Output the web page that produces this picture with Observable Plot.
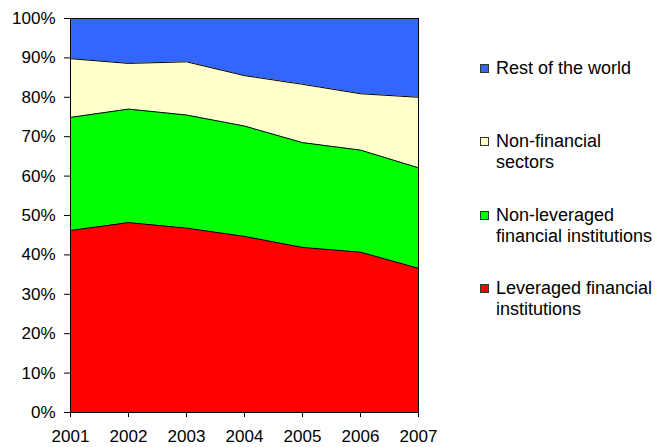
<!DOCTYPE html>
<html>
<head>
<meta charset="utf-8">
<script src="https://cdn.jsdelivr.net/npm/d3@7"></script>
<script src="https://cdn.jsdelivr.net/npm/@observablehq/plot@0.6"></script>
<style>
  body { margin: 0; background: #fff; font-family: "Liberation Sans", Arial, sans-serif; }
  #wrap { position: relative; width: 655px; height: 447px; }
  #legend { position: absolute; left: 480px; top: 0; font-size: 18px; color: #000; }
  .item { position: absolute; left: 0; white-space: nowrap; line-height: 21px; }
  .sw { position: absolute; left: 0; width: 7px; height: 7px; border: 1px solid #333; }
  .lbl { position: absolute; left: 16px; }
</style>
</head>
<body>
<div id="wrap"><div id="legend"></div></div>
<script>
const years = [2001, 2002, 2003, 2004, 2005, 2006, 2007];
const seriesNames = ["Leveraged financial institutions", "Non-leveraged financial institutions", "Non-financial sectors", "Rest of the world"];
const leveraged    = [46.2, 48.2, 46.8, 44.7, 41.9, 40.7, 36.6];
const nonLeveraged = [28.7, 28.8, 28.7, 28.0, 26.6, 25.9, 25.5];
const nonFinancial = [14.9, 11.6, 13.5, 12.8, 14.8, 14.3, 17.9];
const restOfWorld  = [10.2, 11.4, 11.0, 14.5, 16.7, 19.1, 20.0];
const colors = ["#ff0000", "#00ff00", "#ffffcc", "#3366ff"];
const yTicks = [0, 10, 20, 30, 40, 50, 60, 70, 80, 90, 100];

const valueSets = [leveraged, nonLeveraged, nonFinancial, restOfWorld];
const data = [];
valueSets.forEach((vals, i) => years.forEach((yr, j) => data.push({year: yr, series: seriesNames[i], value: vals[j]})));

const chart = Plot.plot({
  width: 655,
  height: 447,
  marginLeft: 70,
  marginRight: 237,
  marginTop: 18,
  marginBottom: 35,
  style: {fontFamily: "Liberation Sans, Arial, sans-serif", fontSize: "17px", color: "#000", background: "#fff"},
  x: {domain: [2001, 2007], ticks: years, tickFormat: d => String(d), label: null, tickSize: 5, tickPadding: 12},
  y: {domain: [0, 100], ticks: yTicks, tickFormat: d => d + "%", label: null, tickSize: 6, tickPadding: 9},
  color: {domain: seriesNames, range: colors},
  marks: [
    Plot.areaY(data, Plot.stackY({x: "year", y: "value", z: "series", fill: "series", order: seriesNames})),
    Plot.lineY(data, Plot.stackY2({x: "year", y: "value", z: "series", order: seriesNames, stroke: "#000", strokeWidth: 1})),
    Plot.frame({stroke: "#000", strokeWidth: 1}),
    Plot.axisX({ticks: years, tickFormat: d => String(d), tickSize: 5, tickPadding: 12, label: null}),
    Plot.axisY({ticks: yTicks, tickFormat: d => d + "%", tickSize: 6, tickPadding: 9, label: null})
  ]
});
document.getElementById("wrap").prepend(chart);
chart.style.position = "absolute"; chart.style.left = "0"; chart.style.top = "0";

const legendItems = [
  {name: "Rest of the world", lines: ["Rest of the world"], color: colors[3], top: 58},
  {name: "Non-financial sectors", lines: ["Non-financial", "sectors"], color: colors[2], top: 131},
  {name: "Non-leveraged financial institutions", lines: ["Non-leveraged", "financial institutions"], color: colors[1], top: 205},
  {name: "Leveraged financial institutions", lines: ["Leveraged financial", "institutions"], color: colors[0], top: 278}
];
const legend = document.getElementById("legend");
legendItems.forEach(it => {
  const d = document.createElement("div");
  d.className = "item";
  d.style.top = it.top + "px";
  d.innerHTML = `<div class="sw" style="background:${it.color};top:6px"></div><div class="lbl">${it.lines.join("<br>")}</div>`;
  legend.appendChild(d);
});
</script>
</body>
</html>
